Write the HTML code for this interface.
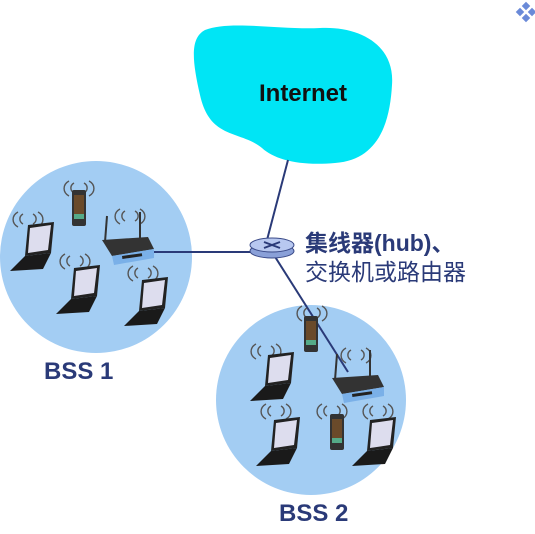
<!DOCTYPE html>
<html><head><meta charset="utf-8"><style>
body{margin:0;width:535px;height:529px;background:#fff;overflow:hidden;font-family:"Liberation Sans","Noto Sans CJK SC",sans-serif}
</style></head><body>
<svg width="535" height="529" viewBox="0 0 535 529" xmlns="http://www.w3.org/2000/svg">
<defs>
<g id="lap">
<path d="M8 0 L34 -3 L31 28 L5 31 Z" fill="#222"/>
<path d="M10 3 L31 0 L28 25 L8 28 Z" fill="#dde"/>
<path d="M5 31 L31 28 L23 44 L-10 46 Z" fill="#1a1a1a"/>
</g>
<g id="ph">
<rect x="0" y="0" width="14" height="36" rx="2" fill="#333"/>
<rect x="2" y="5" width="10" height="24" fill="#6a4a2a"/>
<rect x="2" y="24" width="10" height="5" fill="#5a8"/>
</g>
<g id="wv" fill="none" stroke="#555" stroke-width="1.4">
<path d="M-5 -4 A7 6 0 0 0 -5 6"/><path d="M-10 -6 A11 9 0 0 0 -10 9"/>
<path d="M5 -4 A7 6 0 0 1 5 6"/><path d="M10 -6 A11 9 0 0 1 10 9"/>
</g>
<g id="rt">
<line x1="5" y1="-16" x2="3" y2="10" stroke="#333" stroke-width="2"/>
<line x1="38" y1="-20" x2="38" y2="8" stroke="#333" stroke-width="2"/>
<path d="M0 8 L46 5 L52 17 L10 24 Z" fill="#333"/>
<path d="M10 24 L52 17 L52 26 L12 33 Z" fill="#7ab0e8"/>
<rect x="20" y="24" width="20" height="3" fill="#222" transform="rotate(-8 20 24)"/>
</g>
</defs>
<circle cx="96" cy="257" r="96" fill="#a3cdf3"/>
<circle cx="311" cy="400" r="95" fill="#a3cdf3"/>
<path d="M205 30 C230 20 280 30 320 28 C360 26 395 45 392 85 C390 120 380 160 335 163 C300 166 275 160 262 148 C240 130 210 140 200 95 C192 60 190 38 205 30 Z" fill="#00e5f5"/>
<text x="303" y="101" font-size="24" font-weight="bold" text-anchor="middle" fill="#111">Internet</text>
<line x1="288" y1="160" x2="267" y2="240" stroke="#2a3a78" stroke-width="2"/>
<line x1="150" y1="252" x2="255" y2="252" stroke="#2a3a78" stroke-width="2"/>
<line x1="272" y1="252" x2="348" y2="372" stroke="#2a3a78" stroke-width="2"/>
<ellipse cx="272" cy="251" rx="22" ry="7" fill="#8aa0d8" stroke="#3a4a88"/>
<ellipse cx="272" cy="245" rx="22" ry="7" fill="#b8c8f0" stroke="#3a4a88"/>
<path d="M264 242 L280 248 M280 242 L264 248" stroke="#2a3a78" stroke-width="2"/>
<text x="305" y="251" font-size="23" font-weight="bold" fill="#2a3a78">集线器(hub)、</text>
<text x="305" y="280" font-size="23" fill="#2a3a78">交换机或路由器</text>
<text x="44" y="379" font-size="24" font-weight="bold" fill="#2a3a78">BSS 1</text>
<text x="279" y="521" font-size="24" font-weight="bold" fill="#2a3a78">BSS 2</text>
<!-- BSS1 -->
<use href="#wv" x="79" y="187"/><use href="#ph" x="72" y="190"/>
<use href="#wv" x="28" y="218"/><use href="#lap" x="20" y="225"/>
<use href="#wv" x="130" y="215"/><use href="#rt" x="102" y="232"/>
<use href="#wv" x="75" y="260"/><use href="#lap" x="66" y="268"/>
<use href="#wv" x="143" y="272"/><use href="#lap" x="134" y="280"/>
<!-- BSS2 -->
<use href="#wv" x="312" y="312"/><use href="#ph" x="304" y="316"/>
<use href="#wv" x="266" y="350"/><use href="#lap" x="260" y="355"/>
<use href="#wv" x="356" y="354"/><use href="#rt" x="332" y="370"/>
<use href="#wv" x="276" y="410"/><use href="#lap" x="266" y="420"/>
<use href="#wv" x="332" y="410"/><use href="#ph" x="330" y="414"/>
<use href="#wv" x="378" y="410"/><use href="#lap" x="362" y="420"/>
<g fill="#6a8ad8"><rect x="523" y="3" width="6" height="6" transform="rotate(45 526 6)"/><rect x="517" y="9" width="6" height="6" transform="rotate(45 520 12)"/><rect x="529" y="9" width="6" height="6" transform="rotate(45 532 12)"/><rect x="523" y="15" width="6" height="6" transform="rotate(45 526 18)"/></g>
</svg>
</body></html>
